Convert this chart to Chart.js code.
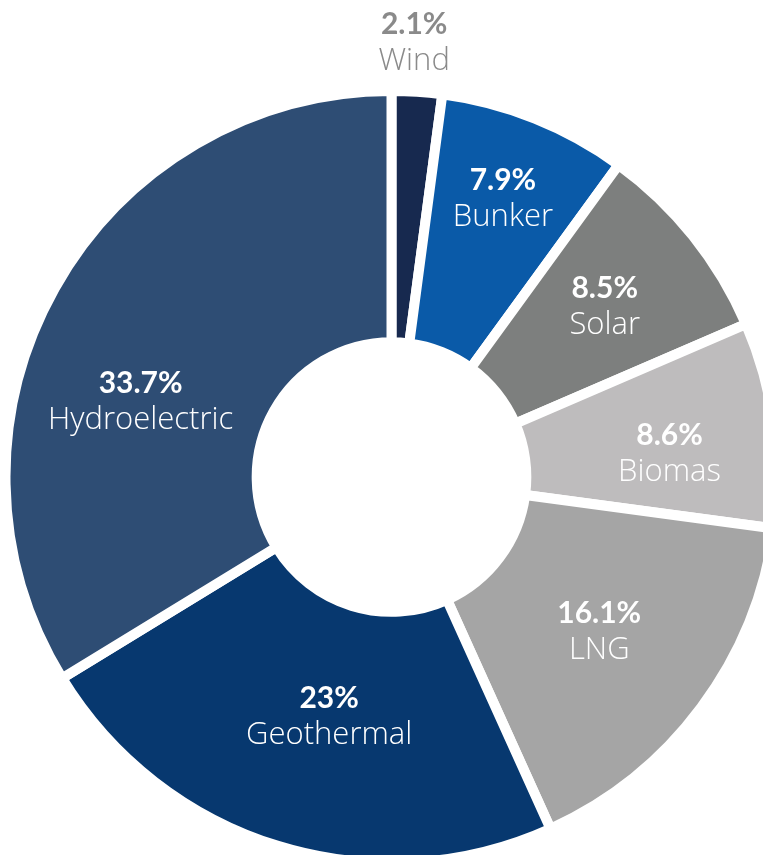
<!DOCTYPE html>
<html>
<head>
<meta charset="utf-8">
<script src="https://cdn.jsdelivr.net/npm/chart.js@4.4.1/dist/chart.umd.min.js"></script>
<style>
    html, body { margin: 0; padding: 0; background: #fff; overflow: hidden; }
    #wrap { position: absolute; left: 0; top: 0; width: 783px; height: 954px; }
</style>
</head>
<body>
<div id="wrap"><canvas id="mixChart"></canvas></div>
<script>
const sources = ['Wind', 'Bunker', 'Solar', 'Biomas', 'LNG', 'Geothermal', 'Hydroelectric'];
const shares = [2.1, 7.9, 8.5, 8.6, 16.1, 23, 33.7];
const shareLabels = ['2.1%', '7.9%', '8.5%', '8.6%', '16.1%', '23%', '33.7%'];
const sliceColors = ['#17294f', '#0a5aa8', '#7d7f7e', '#bebcbd', '#a5a5a5', '#07386f', '#2e4d74'];

// label placement: distance from centre and small angle nudge (degrees)
const labelDist = [435, 300, 273, 279, 259, 247, 262];
const labelNudge = [-0.8, 0, 0, 3, 0, -2.5, -12.5];
const labelColor = ['#8a8a8a', '#fff', '#fff', '#fff', '#fff', '#fff', '#fff'];

const sliceLabels = {
    id: 'sliceLabels',
    afterDatasetsDraw(chart) {
        const ctx = chart.ctx;
        const meta = chart.getDatasetMeta(0);
        ctx.save();
        ctx.textAlign = 'center';
        ctx.textBaseline = 'middle';
        meta.data.forEach((arc, i) => {
            const mid = (arc.startAngle + arc.endAngle) / 2 + labelNudge[i] * Math.PI / 180;
            const x = arc.x + Math.cos(mid) * labelDist[i];
            const y = arc.y + Math.sin(mid) * labelDist[i];
            ctx.fillStyle = labelColor[i];
            ctx.font = 'bold 30px Lato';
            ctx.fillText(shareLabels[i], x, y - 18);
            ctx.font = '300 31px "Open Sans"';
            ctx.fillText(sources[i], x, y + 19);
        });
        ctx.restore();
    }
};

document.addEventListener('DOMContentLoaded', function () {
    const ctx = document.getElementById('mixChart').getContext('2d');
    new Chart(ctx, {
        type: 'doughnut',
        data: {
            labels: sources,
            datasets: [{
                data: shares,
                backgroundColor: sliceColors,
                borderColor: '#fff',
                borderWidth: 10,
                hoverOffset: 0
            }]
        },
        options: {
            responsive: true,
            maintainAspectRatio: false,
            animation: false,
            radius: 386,
            cutout: 135,
            plugins: {
                legend: { display: false },
                tooltip: { enabled: false }
            }
        },
        plugins: [sliceLabels]
    });
});
</script>
</body>
</html>
